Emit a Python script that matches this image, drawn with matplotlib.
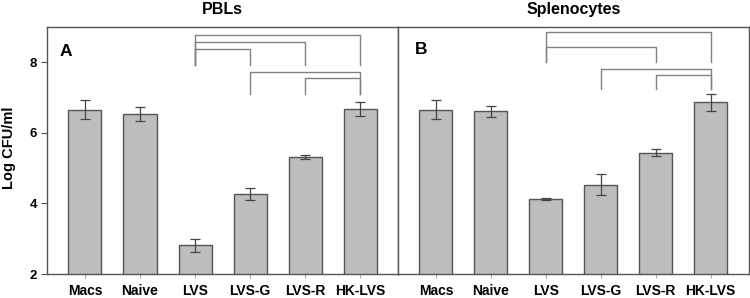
import matplotlib
matplotlib.use('Agg')
from matplotlib import pyplot as plt

plt.rcParams['font.family'] = ['Liberation Sans', 'DejaVu Sans']
plt.rcParams['font.weight'] = 'bold'

groups = ['Macs', 'Naive', 'LVS', 'LVS-G', 'LVS-R', 'HK-LVS']

pbl_means = [6.66, 6.53, 2.81, 4.27, 5.32, 6.67]
pbl_errs = [0.28, 0.20, 0.18, 0.17, 0.05, 0.20]

spl_means = [6.66, 6.61, 4.13, 4.53, 5.44, 6.87]
spl_errs = [0.28, 0.15, 0.03, 0.30, 0.10, 0.24]

# brackets: (left group, right group, top height, base height)
pbl_brackets = [(2, 5, 8.77, 7.92), (2, 4, 8.58, 7.92), (2, 3, 8.37, 7.92),
                (3, 5, 7.71, 7.10), (4, 5, 7.54, 7.10)]
spl_brackets = [(2, 5, 8.85, 8.00), (2, 4, 8.42, 8.00),
                (3, 5, 7.82, 7.25), (4, 5, 7.63, 7.25)]

bar_color = '#bdbdbd'
edge_color = '#555555'
line_color = '#808080'

fig = plt.figure(figsize=(7.5, 2.98), dpi=100)
ax1 = fig.add_axes([0.0627, 0.0805, 0.468, 0.829])
ax2 = fig.add_axes([0.5307, 0.0805, 0.4673, 0.829])

panels = [(ax1, pbl_means, pbl_errs, pbl_brackets, 'PBLs', 'A', 0.037, 0.90),
          (ax2, spl_means, spl_errs, spl_brackets, 'Splenocytes', 'B', 0.048, 0.91)]

x = list(range(len(groups)))
for ax, means, errs, brackets, title, letter, lx, ly in panels:
    ax.bar(x, means, width=0.6, color=bar_color, edgecolor=edge_color,
           linewidth=1.0, zorder=2)
    ax.errorbar(x, means, yerr=errs, fmt='none', ecolor='#444444',
                elinewidth=0.9, capsize=3.5, capthick=0.9, zorder=3)
    for l, r, h, base in brackets:
        ax.plot([l, l, r, r], [base, h, h, base], color=line_color, lw=1.0)
    ax.set_xlim(-0.69, 5.69)
    ax.set_ylim(2, 9)
    ax.set_xticks(x)
    ax.set_xticklabels(groups, fontsize=10, fontweight='bold')
    ax.tick_params(axis='x', length=3, color='#aaaaaa', pad=4)
    ax.set_yticks([2, 4, 6, 8])
    ax.tick_params(axis='y', length=4, color='#555555', labelsize=9.5, pad=3)
    for s in ax.spines.values():
        s.set_color('#555555')
        s.set_linewidth(1.0)
    ax.text(0.5, 1.04, title, transform=ax.transAxes, ha='center', va='bottom',
            fontsize=11.5, fontweight='bold')
    ax.text(lx, ly, letter, transform=ax.transAxes, ha='left', va='center',
            fontsize=12.5, fontweight='bold')

ax1.text(9 / 750, 1 - 148 / 298, 'Log CFU/ml', transform=fig.transFigure,
         rotation=90, ha='center', va='center', fontsize=10.5, fontweight='bold')
ax2.tick_params(axis='y', left=False, labelleft=False)

fig.savefig('out.png', dpi=100)
